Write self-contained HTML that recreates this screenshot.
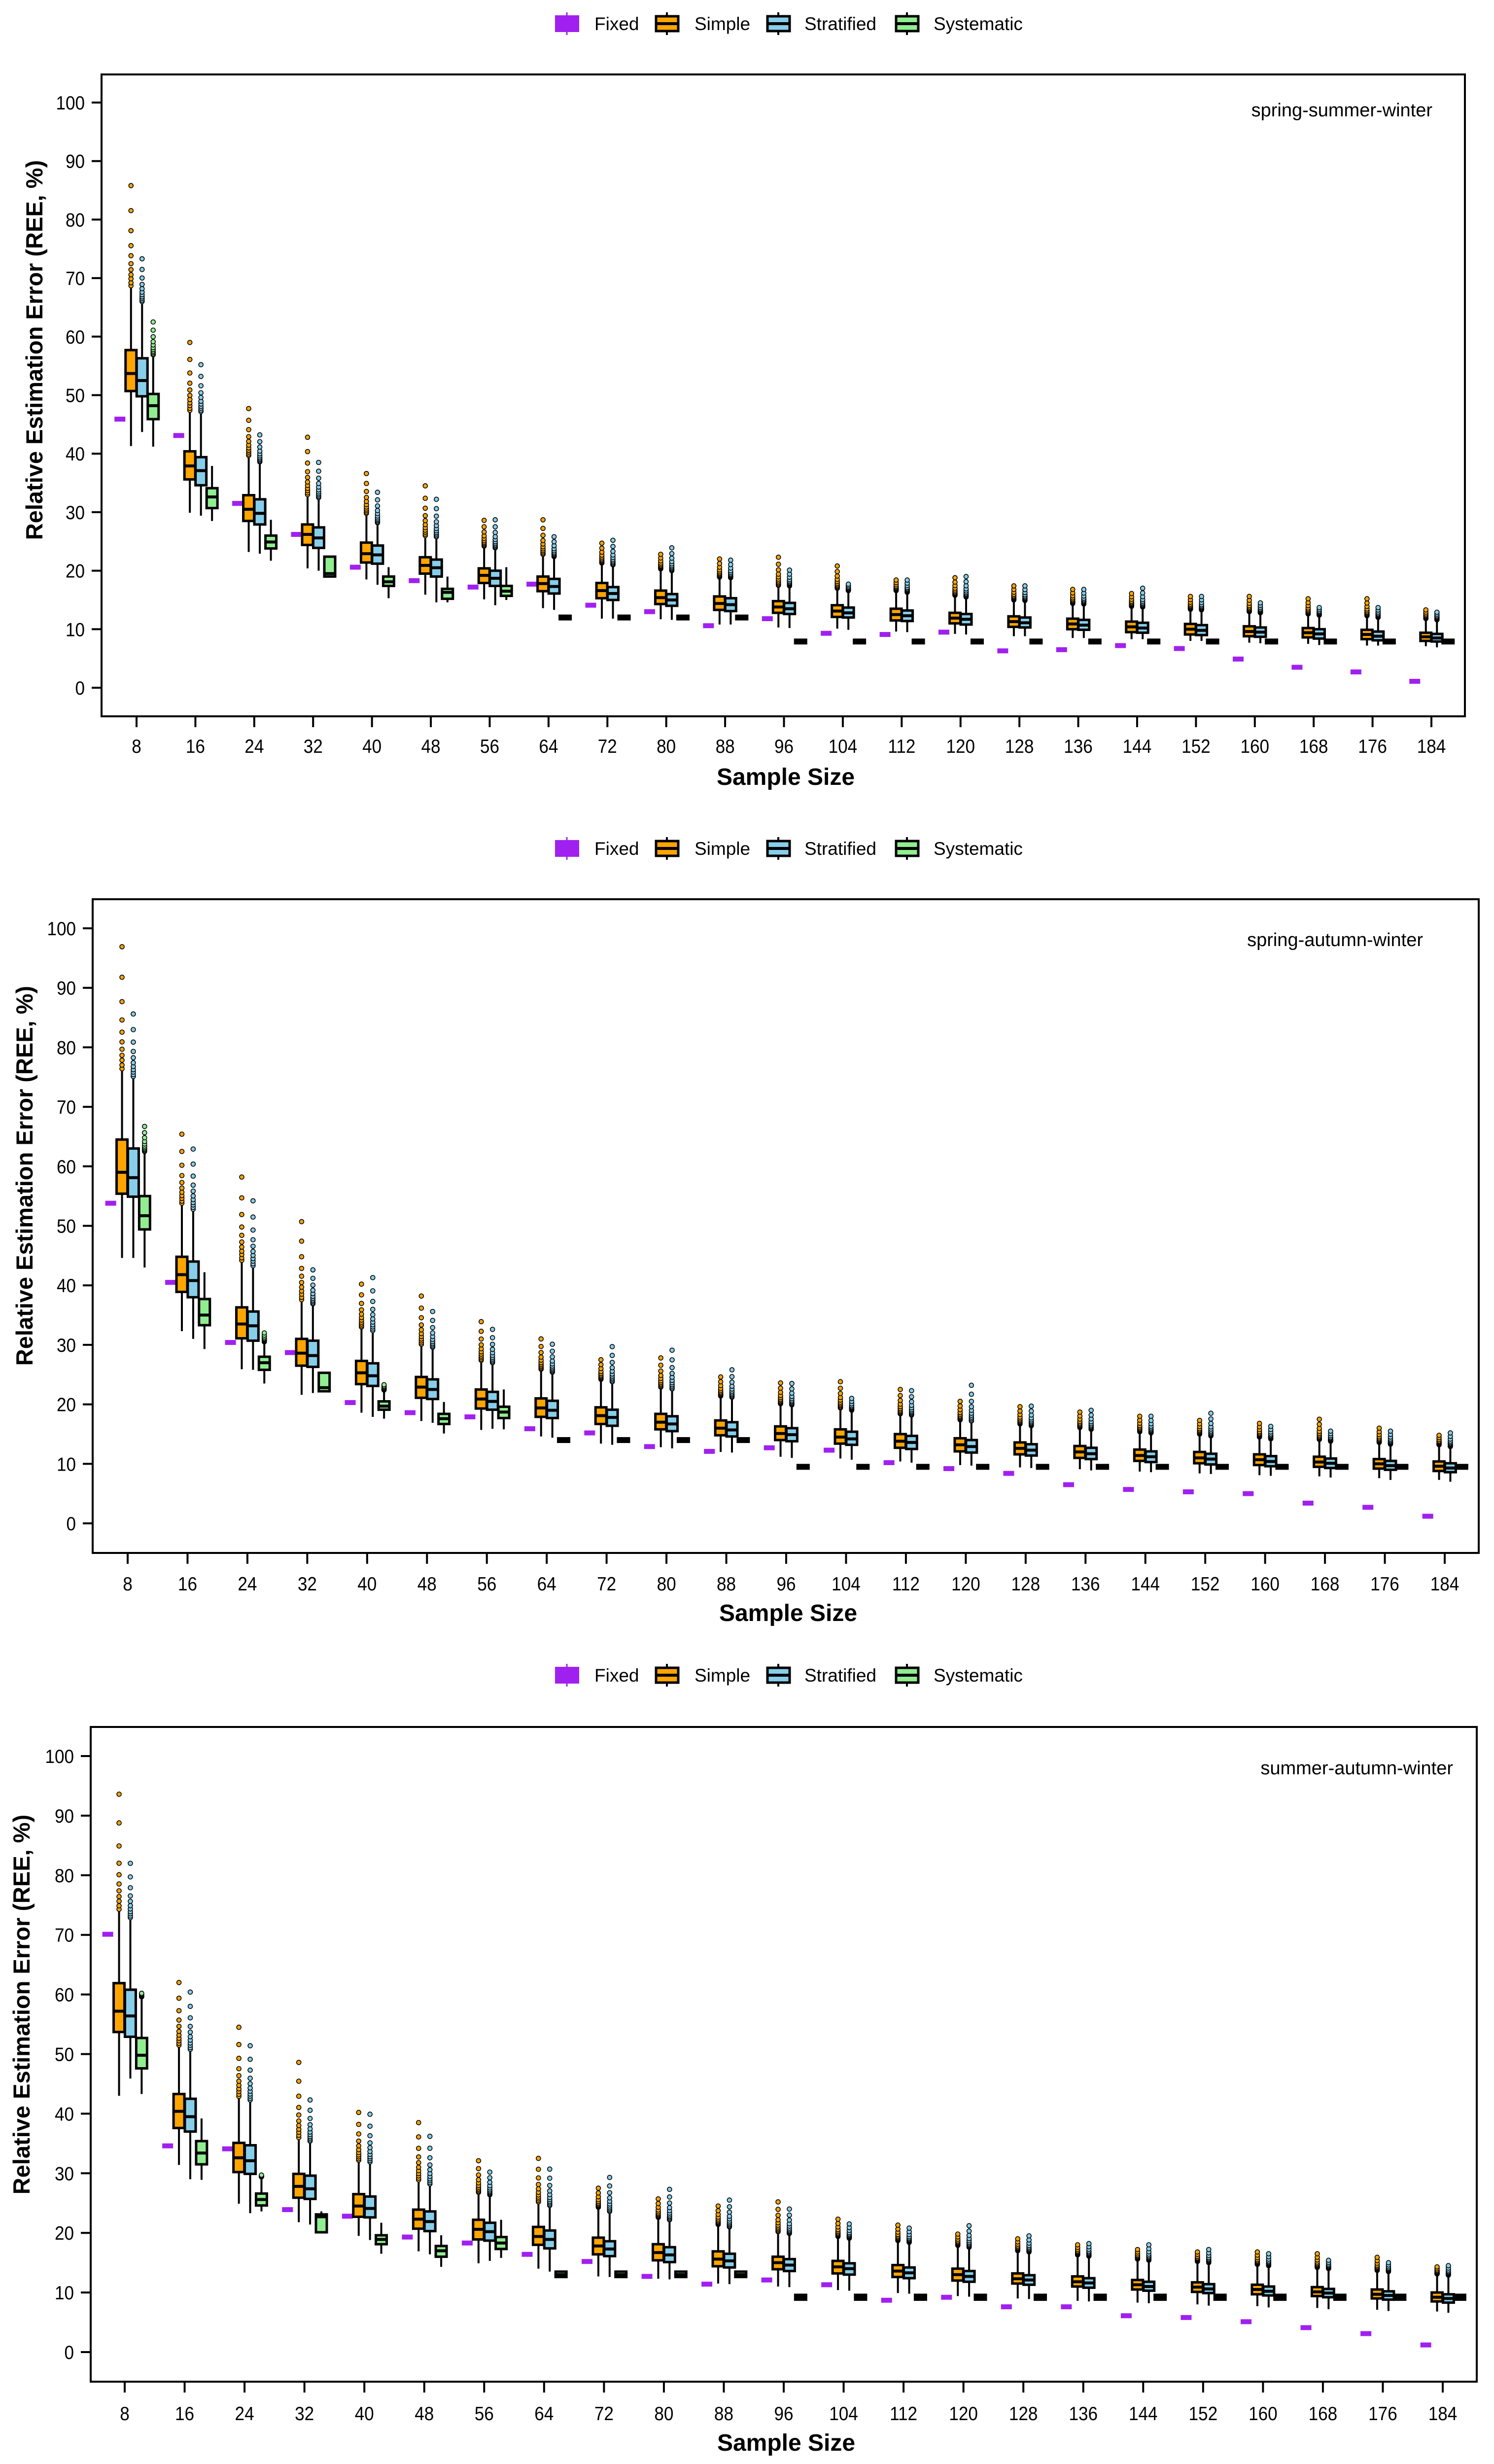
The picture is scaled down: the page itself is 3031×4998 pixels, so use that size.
<!DOCTYPE html>
<html><head><meta charset="utf-8"><title>REE boxplots</title>
<style>
html,body{margin:0;padding:0;background:#fff;}
svg{display:block;font-family:"Liberation Sans",Arial,sans-serif;}
</style></head>
<body>
<svg id="chart" xmlns="http://www.w3.org/2000/svg" width="3031" height="4998" viewBox="0 0 3031 4998">
<rect x="0" y="0" width="3031" height="4998" fill="#fff"/>
</svg>
<script>
// ---------- categories ----------
const sampleSizes = [8,16,24,32,40,48,56,64,72,80,88,96,104,112,120,128,136,144,152,160,168,176,184];
const yTicks = [0,10,20,30,40,50,60,70,80,90,100];
const panelTitles = ["spring-summer-winter","spring-autumn-winter","summer-autumn-winter"];

// ---------- panel 1 ----------
const p1Fixed = [45.9,43.1,31.5,26.2,20.6,18.3,17.2,17.7,14.1,13.0,10.6,11.8,9.3,9.1,9.5,6.3,6.5,7.2,6.7,4.9,3.5,2.7,1.1];
const p1SimQ1 = [50.7,35.6,28.5,24.4,21.4,19.5,17.9,16.5,15.3,14.3,13.3,12.8,12.1,11.5,11.0,10.4,10.0,9.5,9.1,8.8,8.6,8.3,8.0];
const p1SimMed = [53.7,37.9,30.5,26.2,22.9,20.9,19.2,17.8,16.6,15.4,14.4,13.8,13.1,12.5,11.9,11.3,10.9,10.4,10.0,9.6,9.4,9.1,8.7];
const p1SimQ3 = [57.7,40.4,32.9,27.9,24.8,22.3,20.4,19.0,17.9,16.6,15.6,14.8,14.1,13.5,12.8,12.2,11.8,11.3,10.9,10.5,10.2,9.9,9.4];
const p1SimLo = [41.3,29.9,23.2,20.4,18.5,15.9,15.1,13.6,11.8,11.7,10.8,10.3,10.1,9.6,9.2,8.8,8.5,8.3,8.0,7.7,7.5,7.2,7.1];
const p1SimHi = [68.3,47.0,39.3,32.6,29.4,25.6,23.8,22.4,20.9,19.9,18.5,17.1,16.6,16.2,15.4,14.6,14.0,13.5,13.0,12.6,12.2,11.9,11.4];
const p1SimOut = [85.8,59.0,47.7,42.8,36.6,34.5,28.6,28.7,24.7,22.8,22.0,22.3,20.8,18.4,18.8,17.4,16.8,16.1,15.6,15.6,15.2,15.2,13.3];
const p1StrQ1 = [49.8,34.6,27.9,23.9,21.2,19.0,17.4,16.1,15.0,14.0,13.1,12.6,12.0,11.4,10.8,10.3,9.9,9.4,9.0,8.7,8.4,8.1,7.9];
const p1StrMed = [52.5,37.1,29.8,25.6,22.7,20.5,18.7,17.3,16.1,15.0,14.2,13.5,12.8,12.3,11.7,11.1,10.7,10.2,9.8,9.5,9.2,8.8,8.5];
const p1StrQ3 = [56.3,39.4,32.2,27.4,24.3,21.9,20.0,18.6,17.2,16.0,15.3,14.5,13.7,13.2,12.6,12.0,11.6,11.1,10.7,10.3,10.0,9.6,9.2];
const p1StrLo = [43.7,29.4,22.9,20.0,17.6,14.6,14.1,13.3,11.8,11.6,10.8,10.2,9.9,9.5,9.1,8.8,8.5,8.3,8.0,7.6,7.3,7.2,6.9];
const p1StrHi = [65.6,46.8,38.2,32.1,27.8,25.4,23.5,22.0,20.6,19.6,18.4,17.0,16.2,15.9,15.1,14.5,13.9,13.4,12.9,12.4,12.0,11.6,11.2];
const p1StrOut = [73.3,55.2,43.2,38.5,33.4,32.2,28.7,25.8,25.2,23.9,21.8,20.1,17.7,18.4,19.0,17.4,16.8,17.0,15.6,14.5,13.7,13.7,12.9];
const p1SysQ1 = [45.9,30.7,23.8,19.0,17.4,15.2,15.7,12.0,12.0,12.0,12.0,7.9,7.9,7.9,7.9,7.9,7.9,7.9,7.9,7.9,7.9,7.9,7.9];
const p1SysMed = [48.2,32.6,24.9,19.5,18.1,16.3,16.5,12.0,12.0,12.0,12.0,7.9,7.9,7.9,7.9,7.9,7.9,7.9,7.9,7.9,7.9,7.9,7.9];
const p1SysQ3 = [50.2,34.1,26.0,22.4,19.0,16.9,17.4,12.0,12.0,12.0,12.0,7.9,7.9,7.9,7.9,7.9,7.9,7.9,7.9,7.9,7.9,7.9,7.9];
const p1SysLo = [41.2,28.5,21.7,19.0,15.3,14.6,15.0,12.0,12.0,12.0,12.0,7.9,7.9,7.9,7.9,7.9,7.9,7.9,7.9,7.9,7.9,7.9,7.9];
const p1SysHi = [56.5,37.9,28.7,22.5,20.6,19.0,20.6,12.0,12.0,12.0,12.0,7.9,7.9,7.9,7.9,7.9,7.9,7.9,7.9,7.9,7.9,7.9,7.9];
const p1SysOut = [62.5,37.9,28.7,22.5,20.6,19.0,20.6,12.0,12.0,12.0,12.0,7.9,7.9,7.9,7.9,7.9,7.9,7.9,7.9,7.9,7.9,7.9,7.9];

// ---------- panel 2 ----------
const p2Fixed = [53.8,40.5,30.4,28.7,20.3,18.6,17.9,15.9,15.2,12.9,12.1,12.7,12.3,10.2,9.2,8.4,6.5,5.7,5.3,5.0,3.4,2.7,1.2];
const p2SimQ1 = [55.4,38.9,31.1,26.5,23.4,21.1,19.3,17.9,16.7,15.8,14.8,14.0,13.4,12.7,12.1,11.6,11.0,10.5,10.1,9.8,9.5,9.2,8.8];
const p2SimMed = [59.0,41.8,33.5,28.6,25.3,22.9,20.9,19.4,18.1,17.0,16.0,15.1,14.5,13.8,13.2,12.6,12.0,11.4,11.0,10.7,10.3,10.0,9.6];
const p2SimQ3 = [64.5,44.8,36.3,31.0,27.3,24.6,22.5,21.0,19.5,18.4,17.3,16.3,15.8,15.0,14.3,13.6,13.0,12.4,12.0,11.6,11.2,10.8,10.4];
const p2SimLo = [44.6,32.3,25.9,21.6,18.6,17.2,15.7,14.6,13.4,12.8,12.0,11.2,10.9,10.4,9.8,9.4,9.1,8.7,8.4,8.1,7.9,7.6,7.3];
const p2SimHi = [76.0,53.4,43.8,37.2,32.6,29.7,27.0,25.5,23.8,22.5,21.0,19.7,19.0,18.0,17.0,16.3,15.7,15.0,14.6,14.1,13.7,13.2,12.8];
const p2SimOut = [96.9,65.4,58.2,50.7,40.2,38.2,33.9,31.0,27.5,27.8,24.6,23.6,23.8,22.5,20.5,19.6,18.7,18.0,17.3,16.8,17.5,16.0,14.8];
const p2StrQ1 = [54.9,38.0,30.7,26.3,23.1,20.9,19.1,17.7,16.4,15.5,14.6,13.8,13.2,12.5,11.9,11.4,10.8,10.3,9.9,9.6,9.3,9.0,8.6];
const p2StrMed = [58.1,40.8,33.2,28.2,24.8,22.5,20.5,19.0,17.8,16.7,15.7,14.9,14.2,13.6,12.9,12.3,11.7,11.2,10.8,10.4,10.1,9.7,9.3];
const p2StrQ3 = [63.0,44.0,35.6,30.7,26.9,24.2,22.1,20.6,19.1,18.0,17.0,16.0,15.4,14.7,14.0,13.3,12.7,12.1,11.7,11.3,10.9,10.5,10.1];
const p2StrLo = [44.6,31.0,25.8,21.9,17.9,16.9,15.9,14.4,13.2,12.6,11.9,11.0,10.7,10.2,9.7,9.3,8.9,8.6,8.3,8.0,7.7,7.3,7.0];
const p2StrHi = [74.7,52.4,42.9,36.5,32.0,29.2,26.6,25.0,23.4,22.2,20.8,19.5,18.6,17.8,16.8,16.0,15.4,14.8,14.3,13.8,13.4,12.9,12.5];
const p2StrOut = [85.6,62.9,54.2,42.6,41.3,35.6,32.6,30.1,29.7,29.1,25.8,23.5,21.0,22.3,23.2,19.7,19.0,18.0,18.5,16.3,15.5,15.5,15.2];
const p2SysQ1 = [49.4,33.3,25.8,22.2,19.1,16.7,17.7,14.0,14.0,14.0,14.0,9.5,9.5,9.5,9.5,9.5,9.5,9.5,9.5,9.5,9.5,9.5,9.5];
const p2SysMed = [51.7,35.0,27.0,22.8,19.7,17.6,18.7,14.0,14.0,14.0,14.0,9.5,9.5,9.5,9.5,9.5,9.5,9.5,9.5,9.5,9.5,9.5,9.5];
const p2SysQ3 = [55.0,37.7,28.0,25.3,20.5,18.4,19.6,14.0,14.0,14.0,14.0,9.5,9.5,9.5,9.5,9.5,9.5,9.5,9.5,9.5,9.5,9.5,9.5];
const p2SysLo = [43.0,29.3,23.5,22.2,17.6,15.1,15.8,14.0,14.0,14.0,14.0,9.5,9.5,9.5,9.5,9.5,9.5,9.5,9.5,9.5,9.5,9.5,9.5];
const p2SysHi = [62.1,42.2,30.1,25.3,22.0,20.4,22.5,14.0,14.0,14.0,14.0,9.5,9.5,9.5,9.5,9.5,9.5,9.5,9.5,9.5,9.5,9.5,9.5];
const p2SysOut = [66.7,42.2,32.0,25.3,23.3,20.4,22.5,14.0,14.0,14.0,14.0,9.5,9.5,9.5,9.5,9.5,9.5,9.5,9.5,9.5,9.5,9.5,9.5];

// ---------- panel 3 ----------
const p3Fixed = [70.1,34.6,34.1,23.9,22.8,19.3,18.3,16.4,15.2,12.7,11.4,12.1,11.3,8.7,9.2,7.6,7.6,6.1,5.8,5.1,4.1,3.1,1.2];
const p3SimQ1 = [53.7,37.6,30.2,25.9,22.7,20.7,18.9,18.0,16.4,15.4,14.4,13.9,13.2,12.6,12.0,11.5,11.0,10.5,10.1,9.7,9.4,9.0,8.5];
const p3SimMed = [57.2,40.4,32.6,27.8,24.5,22.3,20.6,19.4,17.8,16.7,15.6,15.0,14.3,13.6,13.0,12.3,11.8,11.3,10.9,10.5,10.1,9.7,9.2];
const p3SimQ3 = [61.9,43.3,35.1,29.9,26.5,23.9,22.2,21.0,19.2,18.1,16.9,16.0,15.3,14.6,14.0,13.2,12.7,12.1,11.7,11.3,10.9,10.5,10.0];
const p3SimLo = [43.0,31.4,24.9,21.8,19.5,16.9,14.9,14.0,12.7,12.3,11.5,11.0,10.4,9.9,9.4,9.0,8.6,8.3,8.0,7.7,7.4,7.1,6.8];
const p3SimHi = [73.9,51.1,42.5,35.6,31.8,28.5,26.4,24.8,23.9,22.2,21.0,19.8,19.0,18.3,17.5,16.6,15.9,15.2,14.8,14.3,13.8,13.3,12.7];
const p3SimOut = [93.6,62.0,54.5,48.6,40.2,38.5,32.1,32.5,27.5,25.7,24.5,25.2,22.3,21.3,19.8,19.0,18.0,17.2,16.8,16.8,16.5,15.9,14.3];
const p3StrQ1 = [52.9,37.0,29.9,25.7,22.6,20.3,18.7,17.4,16.1,15.1,14.2,13.6,13.0,12.4,11.8,11.3,10.8,10.3,9.9,9.5,9.2,8.8,8.3];
const p3StrMed = [56.4,39.5,32.1,27.4,24.1,21.9,20.2,18.9,17.3,16.3,15.3,14.6,14.0,13.3,12.7,12.1,11.6,11.0,10.6,10.2,9.9,9.5,9.0];
const p3StrQ3 = [60.8,42.5,34.7,29.6,26.1,23.6,21.7,20.4,18.6,17.6,16.5,15.6,14.9,14.2,13.6,12.9,12.4,11.8,11.4,11.0,10.6,10.2,9.7];
const p3StrLo = [45.9,29.0,23.3,21.4,18.8,16.4,15.3,13.5,12.6,12.2,11.4,10.9,10.3,9.8,9.3,8.9,8.5,8.2,7.8,7.5,7.2,6.9,6.6];
const p3StrHi = [72.5,50.4,41.9,35.0,31.5,27.8,26.0,24.2,23.2,21.8,20.6,19.5,18.7,18.0,17.2,16.4,15.7,15.0,14.6,14.1,13.6,13.1,12.5];
const p3StrOut = [82.0,60.4,51.4,42.3,39.9,36.2,30.2,30.7,29.3,27.3,25.5,24.0,21.5,20.8,21.2,19.5,18.2,18.0,17.2,16.5,15.4,15.0,14.5];
const p3SysQ1 = [47.6,31.5,24.6,20.1,18.1,16.0,17.3,12.6,12.6,12.6,12.6,8.8,8.8,8.8,8.8,8.8,8.8,8.8,8.8,8.8,8.8,8.8,8.8];
const p3SysMed = [49.8,33.4,25.6,22.7,18.9,17.0,18.3,13.0,13.0,13.0,13.0,9.2,9.2,9.2,9.2,9.2,9.2,9.2,9.2,9.2,9.2,9.2,9.2];
const p3SysQ3 = [52.7,35.4,26.6,23.1,19.6,17.8,19.3,13.5,13.5,13.5,13.5,9.6,9.6,9.6,9.6,9.6,9.6,9.6,9.6,9.6,9.6,9.6,9.6];
const p3SysLo = [43.3,28.9,23.6,20.1,16.5,14.3,15.8,12.6,12.6,12.6,12.6,8.8,8.8,8.8,8.8,8.8,8.8,8.8,8.8,8.8,8.8,8.8,8.8];
const p3SysHi = [59.2,39.2,29.0,23.6,21.7,19.6,22.2,13.5,13.5,13.5,13.5,9.6,9.6,9.6,9.6,9.6,9.6,9.6,9.6,9.6,9.6,9.6,9.6];
const p3SysOut = [60.2,39.2,29.7,23.6,21.7,19.6,22.2,13.5,13.5,13.5,13.5,9.6,9.6,9.6,9.6,9.6,9.6,9.6,9.6,9.6,9.6,9.6,9.6];

const NS = "http://www.w3.org/2000/svg";
const svg = document.getElementById("chart");
function mk(tag, attrs, parent){
  const e = document.createElementNS(NS, tag);
  for (const k in attrs) e.setAttribute(k, attrs[k]);
  (parent||svg).appendChild(e);
  return e;
}

const COL = {fixed:"#a020f0", simple:"#ffa500", strat:"#87ceeb", sys:"#90ee90"};

// layout (pixel geometry only)
const layouts = [
  {left:206,right:2972,top:151,bottom:1453,y0:1395,yUnit:11.87,x0:277,x1:2904,legendY:48,xlabY:1527,titleY:1592,ytitleX:70,ytitleY:710,ptX:2906,ptY:236},
  {left:188,right:3000,top:1824,bottom:3150,y0:3090,yUnit:12.07,x0:259,x1:2931,legendY:1721,xlabY:3226,titleY:3288,ytitleX:50,ytitleY:2385,ptX:2887,ptY:1919},
  {left:184,right:2996,top:3503,bottom:4831,y0:4771,yUnit:12.09,x0:253,x1:2927,legendY:3398,xlabY:4909,titleY:4971,ytitleX:44,ytitleY:4066,ptX:2948,ptY:3599}
];
const panelData = [
  {fixed:p1Fixed, series:[
    {key:"simple",q1:p1SimQ1,med:p1SimMed,q3:p1SimQ3,lo:p1SimLo,hi:p1SimHi,out:p1SimOut},
    {key:"strat",q1:p1StrQ1,med:p1StrMed,q3:p1StrQ3,lo:p1StrLo,hi:p1StrHi,out:p1StrOut},
    {key:"sys",q1:p1SysQ1,med:p1SysMed,q3:p1SysQ3,lo:p1SysLo,hi:p1SysHi,out:p1SysOut}]},
  {fixed:p2Fixed, series:[
    {key:"simple",q1:p2SimQ1,med:p2SimMed,q3:p2SimQ3,lo:p2SimLo,hi:p2SimHi,out:p2SimOut},
    {key:"strat",q1:p2StrQ1,med:p2StrMed,q3:p2StrQ3,lo:p2StrLo,hi:p2StrHi,out:p2StrOut},
    {key:"sys",q1:p2SysQ1,med:p2SysMed,q3:p2SysQ3,lo:p2SysLo,hi:p2SysHi,out:p2SysOut}]},
  {fixed:p3Fixed, series:[
    {key:"simple",q1:p3SimQ1,med:p3SimMed,q3:p3SimQ3,lo:p3SimLo,hi:p3SimHi,out:p3SimOut},
    {key:"strat",q1:p3StrQ1,med:p3StrMed,q3:p3StrQ3,lo:p3StrLo,hi:p3StrHi,out:p3StrOut},
    {key:"sys",q1:p3SysQ1,med:p3SysMed,q3:p3SysQ3,lo:p3SysLo,hi:p3SysHi,out:p3SysOut}]}
];
const outlierFractions = [0,0.03,0.07,0.11,0.16,0.22,0.3,0.4,0.55,0.75,1];

function drawLegend(L, p){
  const g = mk("g", {});
  
  
  const cy = L.legendY;
  const items = [
    {key:"fixed", label:"Fixed", ix:1126, tx:1206},
    {key:"simple", label:"Simple", ix:1329, tx:1409},
    {key:"strat", label:"Stratified", ix:1555, tx:1632},
    {key:"sys", label:"Systematic", ix:1816, tx:1894}
  ];
  items.forEach(it=>{
    const e = mk("g", {}, g);
    
    
    if (it.key === "fixed"){
      mk("line",{x1:it.ix+24,x2:it.ix+24,y1:cy-23,y2:cy+23,stroke:COL.fixed,"stroke-width":3},e);
      mk("rect",{x:it.ix,y:cy-17,width:49,height:34,fill:COL.fixed},e);
    } else {
      mk("line",{x1:it.ix+24,x2:it.ix+24,y1:cy-23,y2:cy+23,stroke:"#000","stroke-width":4},e);
      mk("rect",{x:it.ix+2,y:cy-15,width:45,height:30,fill:COL[it.key],stroke:"#000","stroke-width":5},e);
      mk("line",{x1:it.ix+2,x2:it.ix+47,y1:cy,y2:cy,stroke:"#000","stroke-width":6},e);
    }
    const t = mk("text",{x:it.tx,y:cy+13,"font-size":37,fill:"#000"},e);
    t.textContent = it.label;
  });
}

function drawPanel(p){
  const L = layouts[p], D = panelData[p];
  const step = (L.x1 - L.x0) / (sampleSizes.length - 1);
  const xOf = i => L.x0 + i * step;
  const yOf = v => L.y0 - v * L.yUnit;
  const off = step / 119.4 * 22.5;
  const bw = 22;

  drawLegend(L, p);

  const g = mk("g", {});
  
  

  // plot frame
  const frame = mk("rect",{x:L.left,y:L.top,width:L.right-L.left,height:L.bottom-L.top,fill:"none",stroke:"#000","stroke-width":4},g);
  
  

  // y axis ticks
  const ya = mk("g",{},g);
  
  
  yTicks.forEach(v=>{
    const y = yOf(v);
    mk("line",{x1:L.left-20,x2:L.left,y1:y,y2:y,stroke:"#000","stroke-width":4},ya);
    const t = mk("text",{x:L.left-34,y:y+14,"font-size":39,"text-anchor":"end",fill:"#000",transform:`translate(${(L.left-34)*0.1},0) scale(0.9,1)`},ya);
    
    
    t.textContent = v;
  });
  const yt = mk("text",{x:0,y:0,"font-size":47,"font-weight":"bold","text-anchor":"middle",fill:"#000",
    transform:`translate(${L.ytitleX},${L.ytitleY}) rotate(-90) translate(0,16)`},g);
  
  
  yt.textContent = "Relative Estimation Error (REE, %)";

  // x axis
  const xa = mk("g",{},g);
  
  
  sampleSizes.forEach((s,i)=>{
    const x = xOf(i);
    mk("line",{x1:x,x2:x,y1:L.bottom,y2:L.bottom+22,stroke:"#000","stroke-width":4},xa);
    const t = mk("text",{x:x/0.9,y:L.xlabY,"font-size":39,"text-anchor":"middle",fill:"#000",transform:"scale(0.9,1)"},xa);
    
    
    t.textContent = s;
  });
  const xt = mk("text",{x:(L.left+L.right)/2 + 5,y:L.titleY,"font-size":48,"font-weight":"bold","text-anchor":"middle",fill:"#000"},g);
  
  
  xt.textContent = "Sample Size";

  const pt = mk("text",{x:L.ptX,y:L.ptY,"font-size":38,"text-anchor":"end",fill:"#000"},g);
  
  
  pt.textContent = panelTitles[p];

  // fixed marks
  D.fixed.forEach((v,i)=>{
    const r = mk("rect",{x:xOf(i)-1.5*off-11,y:yOf(v)-5,width:22,height:10,fill:COL.fixed},g);
    
    
  });

  // boxplots
  D.series.forEach((s,si)=>{
    const sg = mk("g",{},g);
    
    
    sampleSizes.forEach((n,i)=>{
      const cx = xOf(i) + (si - 0.5) * off;
      const bg = mk("g",{},sg);
      
      
      const yq1 = yOf(s.q1[i]), yq3 = yOf(s.q3[i]), ym = yOf(s.med[i]);
      const ylo = yOf(s.lo[i]), yhi = yOf(s.hi[i]);
      mk("line",{x1:cx,x2:cx,y1:ylo,y2:yhi,stroke:"#000","stroke-width":4},bg);
      if (s.out[i] > s.hi[i] + 0.3){
        outlierFractions.forEach(f=>{
          const v = s.hi[i] + 0.4 + (s.out[i] - s.hi[i] - 0.4) * f;
          mk("circle",{cx:cx,cy:yOf(v),r:4.5,fill:COL[s.key],stroke:"#000","stroke-width":1.6},bg);
        });
      }
      let top = yq3, h = yq1 - yq3;
      if (h < 7){ top = (yq1 + yq3)/2 - 3.5; h = 7; }
      mk("rect",{x:cx-bw/2,y:top,width:bw,height:h,fill:COL[s.key],stroke:"#000","stroke-width":5},bg);
      mk("line",{x1:cx-bw/2,x2:cx+bw/2,y1:ym,y2:ym,stroke:"#000","stroke-width":6},bg);
    });
  });
}

[0,1,2].forEach(drawPanel);
</script>
</body></html>
